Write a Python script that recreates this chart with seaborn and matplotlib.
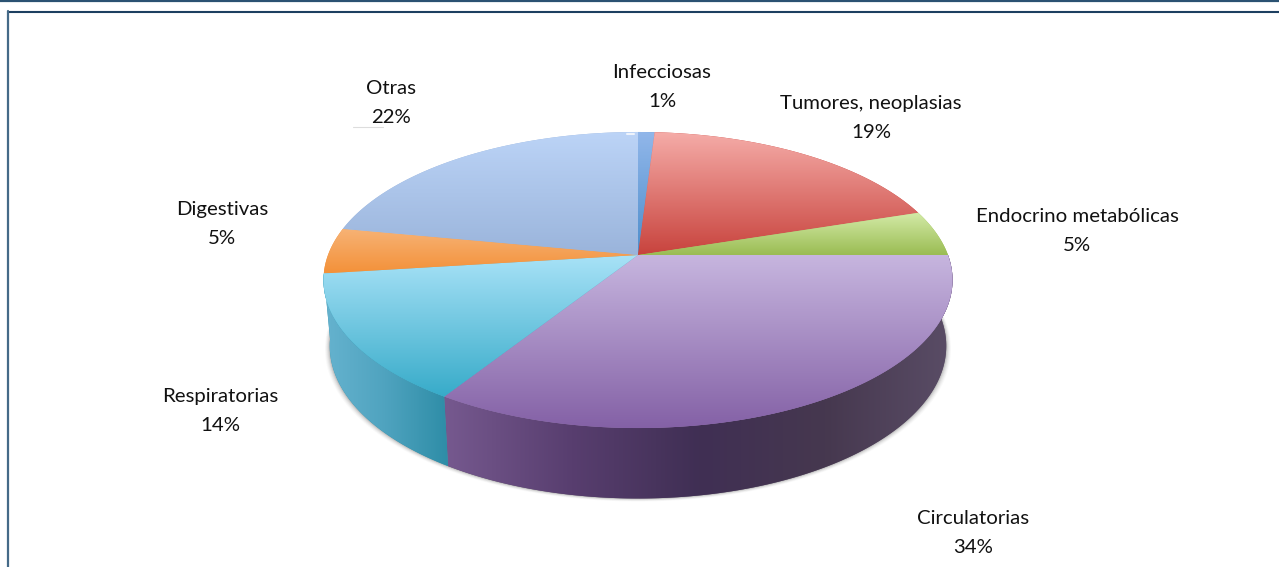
import numpy as np
import seaborn as sns
import matplotlib.pyplot as plt
from matplotlib.path import Path
from matplotlib.patches import PathPatch
from matplotlib.transforms import Transform, Affine2D

categories = ["Infecciosas", "Tumores, neoplasias", "Endocrino metabólicas", "Circulatorias",
              "Respiratorias", "Digestivas", "Otras"]
values = [1, 19, 5, 34, 14, 5, 22]

# top face colours, light to dark
top_colors = [("#92b7ea", "#4c8dcb"), ("#f5aca8", "#c8433d"), ("#d4eba8", "#9abc53"),
              ("#c7b6df", "#8461a6"), ("#a8e2f7", "#37abc9"), ("#f7b376", "#f39139"),
              ("#bcd4f7", "#9ab4db")]
# side colours, left to right
side_colors = {"Circulatorias": ["#76598f", "#583e6f", "#402f54", "#46384f", "#5a4d66"],
               "Respiratorias": ["#66b3cf", "#4fa3bf", "#2e8da7"]}
label_pos = [(662, 87), (871, 118), (1077, 231), (973, 533), (220, 411), (222, 224), (391, 103)]

# pie geometry in pixels
cx, cy = 638, 255
a, b, k = 310, 143.8, 0.169


def project(xy):
    xy = np.atleast_2d(xy)
    w = 1 + k * xy[:, 1]
    return np.column_stack([cx + a * xy[:, 0] / w, cy - b * xy[:, 1] / w])


def drop(pts):
    # lower rim of the pie
    return np.column_stack([cx + (pts[:, 0] - cx) * 0.98, pts[:, 1] + 66 + 0.03 * (pts[:, 1] - 280)])


class PieProjection(Transform):
    input_dims = output_dims = 2

    def transform_non_affine(self, xy):
        return project(xy)

    def transform_path_non_affine(self, path):
        poly = path.to_polygons(Affine2D().scale(3000))[0] / 3000
        return Path(project(poly), closed=True)


sns.set_theme(style="white")
plt.rcParams['font.family'] = ['Lato', 'DejaVu Sans']

fig = plt.figure(figsize=(12.79, 5.67), dpi=100, facecolor='white')
ax = fig.add_axes([0, 0, 1, 1])

wedges, _ = ax.pie(values, startangle=90, counterclock=False, colors=[c[1] for c in top_colors])
ax.set_aspect('auto')
ax.set_xlim(0, 1279)
ax.set_ylim(567, 0)
ax.axis('off')

proj = PieProjection() + ax.transData
full = np.radians(np.linspace(0, 360, 361))
rim = drop(project(np.column_stack([np.cos(full), np.sin(full)])))

# soft shadow under the pie
for grow, alpha in zip([5, 4, 3, 2, 1], [0.03, 0.05, 0.07, 0.1, 0.16]):
    ax.fill(cx + (rim[:, 0] - cx) * (1 + grow / 320), rim[:, 1] + grow * 0.6, color='#555555',
            alpha=alpha, lw=0, zorder=1)

for wedge, name, colors in zip(wedges, categories, top_colors):
    # side wall
    if name in side_colors:
        t = np.radians(np.linspace(wedge.theta1, wedge.theta2, 200))
        upper = project(np.column_stack([np.cos(t), np.sin(t)]))
        lower = drop(upper)
        outline = np.vstack([upper, lower[::-1], upper[:1]])
        side = PathPatch(Path(outline, closed=True), fc=side_colors[name][-1], lw=0, zorder=2)
        ax.add_patch(side)
        x0, x1 = outline[:, 0].min(), outline[:, 0].max()
        im = ax.imshow(np.linspace(0, 1, 256)[None, :], extent=(x0, x1, 510, 250), aspect='auto', zorder=3,
                       cmap=sns.blend_palette(side_colors[name], as_cmap=True))
        im.set_clip_path(side)

    # top face
    wedge.set_transform(proj)
    wedge.set_linewidth(0)
    wedge.set_zorder(4)
    t = np.radians(np.linspace(wedge.theta1, wedge.theta2, 100))
    arc = project(np.vstack([np.column_stack([np.cos(t), np.sin(t)]), [[0, 0]]]))
    im = ax.imshow(np.linspace(0, 1, 256)[:, None], zorder=5, aspect='auto',
                   extent=(arc[:, 0].min(), arc[:, 0].max(), arc[:, 1].max(), arc[:, 1].min()),
                   origin='upper', cmap=sns.blend_palette(colors, as_cmap=True))
    im.set_clip_path(wedge)

ax.set_xlim(0, 1279)
ax.set_ylim(567, 0)

for name, val, (x, y) in zip(categories, values, label_pos):
    ax.text(x, y, f"{name}\n{val}%", ha='center', va='center', fontsize=14.7, color='#111111',
            linespacing=1.85, zorder=6)

# page rules
ax.plot([0, 1279], [0.5, 0.5], color='#2b5272', lw=1.6, zorder=7, clip_on=False)
ax.plot([7.5, 1279], [11.5, 11.5], color='#1d3f60', lw=1.5, zorder=7)
ax.plot([7.5, 7.5], [11, 567], color='#456a88', lw=1.6, zorder=7)
# leftover marks beside the Otras label and on the pie rim
ax.plot([353, 383], [126.5, 126.5], color='#dddddd', lw=0.8, zorder=1)
ax.plot([627, 634], [133.5, 133.5], color='#eef3fb', lw=1.5, zorder=6)

fig.savefig("out.png", dpi=100)
